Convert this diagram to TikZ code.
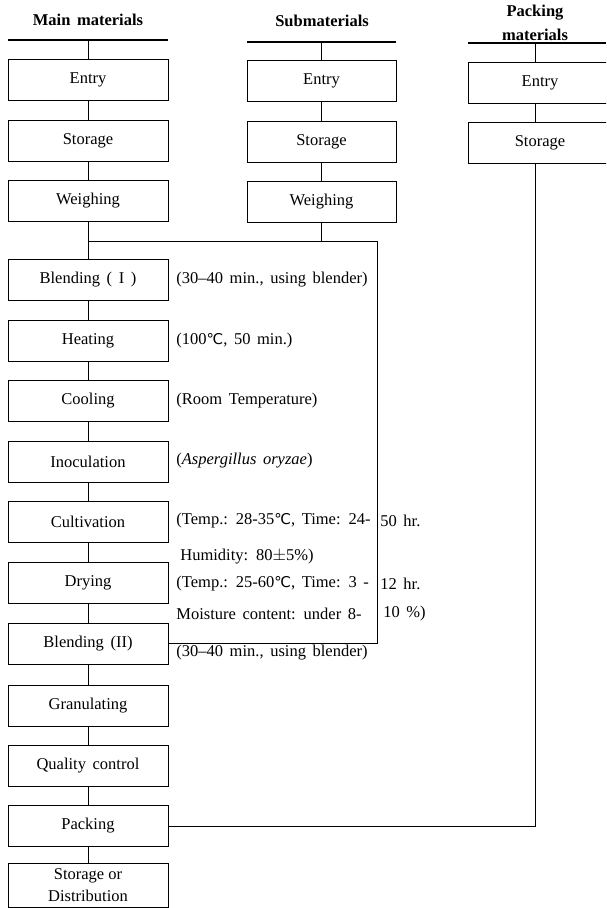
\documentclass[tikz,border=0pt]{standalone}
\usepackage{fontspec}
\setmainfont{Liberation Serif}
\newfontfamily\symf[Scale=0.9]{DejaVu Sans}
\newcommand{\dgc}{{\symf ℃}}
\newcommand{\wsp}{\spaceskip 0.4em\relax}

\begin{document}
\begin{tikzpicture}[x=1pt,y=-1pt,line width=0.8,
	txt/.style={font=\fontsize{16.5}{24}\selectfont\wsp},
	hdr/.style={font=\fontsize{16.5}{24}\selectfont\bfseries\wsp,inner sep=0},
	rule/.style={line width=1.4},
	stepbox/.style={txt,draw,inner sep=0,minimum width=160,minimum height=41},
	subbox/.style={stepbox,minimum width=149},
	packbox/.style={stepbox,minimum width=144},
	note/.style={txt,anchor=west,inner sep=0}]
	\useasboundingbox (0,0) rectangle (606,908);
	\clip (0,0) rectangle (606,908);

	\node[hdr] (hm) at (88,20) {Main materials};
	\node[hdr] (hs) at (322,21) {Submaterials};
	\node[hdr,align=center] (hp) at (535,23) {Packing\\materials};
	\draw[rule] (8,40) -- (168,40);
	\draw[rule] (247,42) -- (396,42);
	\draw[rule] (468,43) -- (606,43);

	\node[stepbox] (m1) at (88,80) {Entry};
	\node[stepbox] (m2) at (88,140.5) {Storage};
	\node[stepbox] (m3) at (88,201) {Weighing};
	\node[stepbox] (m4) at (88,280) {Blending ( I )};
	\node[stepbox] (m5) at (88,341) {Heating};
	\node[stepbox] (m6) at (88,401) {Cooling};
	\node[stepbox] (m7) at (88,461.5) {Inoculation};
	\node[stepbox] (m8) at (88,522) {Cultivation};
	\node[stepbox] (m9) at (88,582.5) {Drying};
	\node[stepbox] (m10) at (88,643.5) {Blending (II)};
	\node[stepbox] (m11) at (88,706) {Granulating};
	\node[stepbox] (m12) at (88,765.5) {Quality control};
	\node[stepbox] (m13) at (88,826) {Packing};
	\node[stepbox,minimum height=44,align=center,font=\fontsize{16.5}{22}\selectfont] (m14) at (88,885) {Storage or\\Distribution};

	\node[subbox] (s1) at (321.5,81) {Entry};
	\node[subbox] (s2) at (321.5,141.5) {Storage};
	\node[subbox] (s3) at (321.5,202) {Weighing};

	\node[packbox] (p1) at (540,82.5) {Entry};
	\node[packbox] (p2) at (540,143) {Storage};

	\node[note] (a4) at (176,280) {(30--40 min., using blender)};
	\node[note] (a5) at (176,341) {(100\dgc, 50 min.)};
	\node[note] (a6) at (176,401) {(Room Temperature)};
	\node[note] (a7) at (176,461) {(\textit{Aspergillus oryzae})};
	\node[note] (a8) at (176,521) {(Temp.: 28-35\dgc, Time: 24-};
	\node[note] (a8r) at (380,521) {50 hr.};
	\node[note] (a8b) at (180,557) {Humidity: 80$\pm$5\%)};
	\node[note] (a9) at (176,584) {(Temp.: 25-60\dgc, Time: 3 -};
	\node[note] (a9r) at (380,584) {12 hr.};
	\node[note] (a9b) at (176,614) {Moisture content: under 8-};
	\node[note] (a9c) at (383,614) {10 \%)};
	\node[note] (a10) at (176,653) {(30--40 min., using blender)};

	\coordinate (c0) at (88,40);
	\coordinate (c1) at (321.5,42);
	\coordinate (c2) at (535,43);
	\coordinate (j1) at (88,241);
	\coordinate (j2) at (377,241);

	\draw (c0) -- (m1) (m1) -- (m2) (m2) -- (m3) (m3) -- (m4) (m4) -- (m5)
		(m5) -- (m6) (m6) -- (m7) (m7) -- (m8) (m8) -- (m9) (m9) -- (m10)
		(m10) -- (m11) (m11) -- (m12) (m12) -- (m13) (m13) -- (m14);
	\draw (c1) -- (s1) (s1) -- (s2) (s2) -- (s3);
	\draw (s3) -- (s3 |- j2);
	\draw (j1) -- (j2) |- (m10);
	\draw (c2) -- (c2 |- p1.north) (c2 |- p1.south) -- (c2 |- p2.north);
	\draw (c2 |- p2.south) |- (m13);
\end{tikzpicture}
\end{document}
